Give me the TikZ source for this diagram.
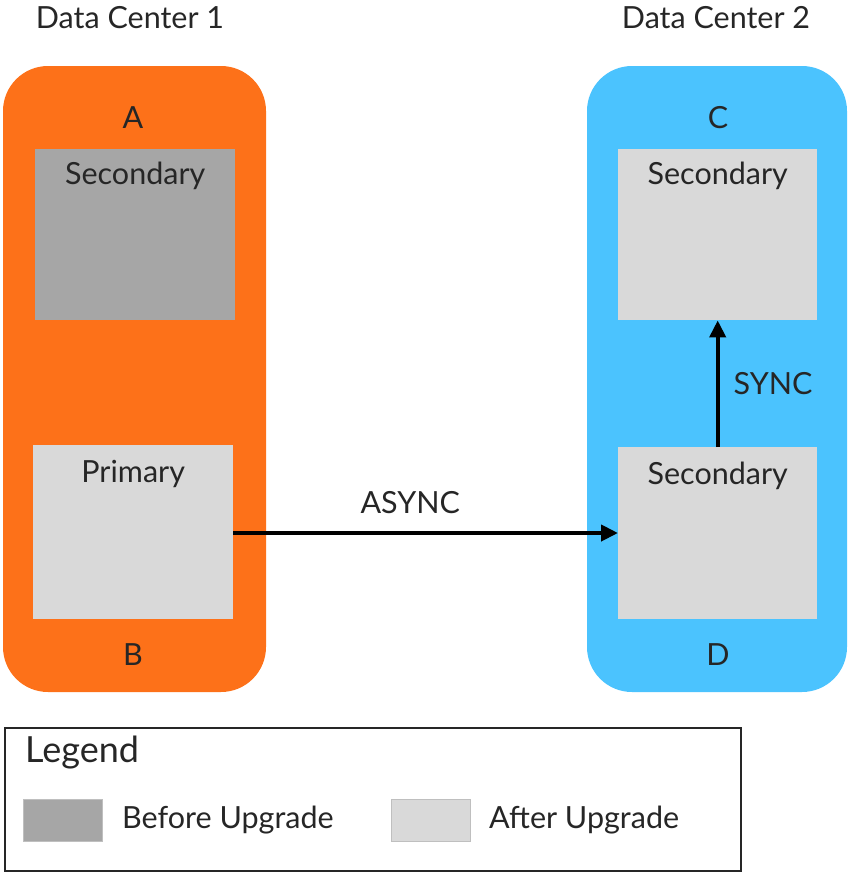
\documentclass[tikz,border=0pt]{standalone}
\usepackage{fontspec}
\setmainfont{Lato}
\usetikzlibrary{arrows.meta}
\definecolor{dcorange}{HTML}{FD7119}
\definecolor{dcblue}{HTML}{4BC3FE}
\definecolor{before}{HTML}{A6A6A6}
\definecolor{after}{HTML}{D9D9D9}
\begin{document}
\begin{tikzpicture}[x=1pt,y=-1pt,
  lbl/.style={font=\fontsize{30.5}{33}\selectfont, text=black!85, inner sep=0pt},
  dc/.style={rounded corners=45pt, draw=none},
  srv/.style={draw=none, anchor=north west, inner sep=0pt},
  conn/.style={line width=4pt, -{Triangle[length=17pt,width=16pt]}}]
\useasboundingbox (0,0) rectangle (847,873);
\fill[dc, dcorange] (3,66) rectangle (266,692);
\fill[dc, dcblue] (587,66) rectangle (847,692);
\node[lbl] (dc1) at (130,18) {Data Center 1};
\node[lbl] (dc2) at (716,18) {Data Center 2};
\node[lbl] (la) at (133,118) {A};
\node[lbl] (lb) at (133,655) {B};
\node[lbl] (lc) at (718,118) {C};
\node[lbl] (ld) at (718,655) {D};
\node[srv, fill=before, minimum width=200pt, minimum height=171pt] (A) at (35,149) {};
\node[srv, fill=after, minimum width=200pt, minimum height=174pt] (B) at (33,445) {};
\node[srv, fill=after, minimum width=199pt, minimum height=171pt] (C) at (618,149) {};
\node[srv, fill=after, minimum width=199pt, minimum height=172pt] (D) at (618,447) {};
\node[lbl] at (A.north) [yshift=-27pt] {Secondary};
\node[lbl] at (B.north) [yshift=-29pt] {Primary};
\node[lbl] at (C.north) [yshift=-27pt] {Secondary};
\node[lbl] at (D.north) [yshift=-29pt] {Secondary};
\draw[conn] (B.east |- 0,533) -- (D.west |- 0,533) node[lbl, pos=0.46, above=17pt] {ASYNC};
\draw[conn] (D.north) -- (C.south) node[lbl, midway, right=14pt] {SYNC};
\node[draw=black!85, line width=1.5pt, anchor=north west, minimum width=736pt, minimum height=143pt, inner sep=0pt] (leg) at (4,727) {};
\node[lbl, anchor=west, font=\fontsize{36}{40}\selectfont] (legt) at (25,753) {Legend};
\node[srv, fill=before, draw=black!25, line width=0.5pt, minimum width=79pt, minimum height=42pt] (sw1) at (23,799) {};
\node[srv, fill=after, draw=black!25, line width=0.5pt, minimum width=79pt, minimum height=42pt] (sw2) at (391,799) {};
\node[lbl, anchor=west] at (122,820) {Before Upgrade};
\node[lbl, anchor=west] at (489,820) {After Upgrade};
\end{tikzpicture}
\end{document}
